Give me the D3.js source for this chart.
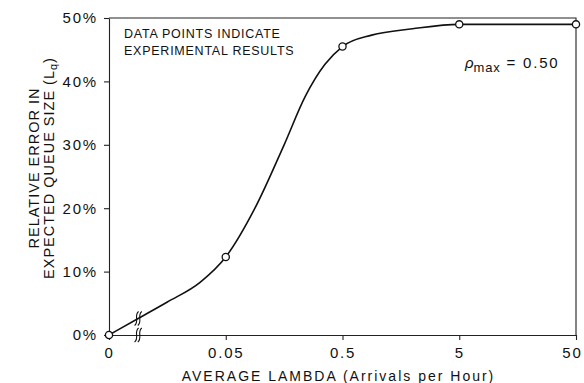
<!DOCTYPE html>
<html>
<head>
<meta charset="utf-8">
<script src="https://cdn.jsdelivr.net/npm/d3@7"></script>
<style>
  body { margin: 0; background: #fff; }
  svg { display: block; font-family: "Liberation Sans", Arial, sans-serif; }
  .axis path, .axis line { stroke: #222; stroke-width: 1.1; }
  .axis text { font-size: 15px; fill: #111; letter-spacing: 1.8px; }
</style>
</head>
<body>
<div id="chart"></div>
<script>
const svgWidth = 584
const svgHeight = 383

// x categories (equally spaced, log steps with a break after 0)
const lambdaLabels = ["0", "0.05", "0.5", "5", "50"]
// experimental data points, relative error in %
const errorPoints = [0, 12.3, 45.5, 49, 49]
// hand-drawn fitted curve (x in category steps, y in %)
const curveX = [0, 0.25, 0.5, 0.78, 1.0, 1.25, 1.5, 1.68, 1.85, 2.0, 2.25, 2.6, 3.0, 4.0]
const curveY = [0, 2.6, 5.2, 8.3, 12.3, 20.0, 30.0, 37.6, 42.7, 45.5, 47.3, 48.3, 49.0, 49.0]
const yTicks = [0, 10, 20, 30, 40, 50]

let margin = { top: 18, right: 8, bottom: 48, left: 109 }
let width = svgWidth - margin.left - margin.right
let height = svgHeight - margin.top - margin.bottom

let svg = d3.select("#chart")
  .append("svg")
  .attr("width", svgWidth)
  .attr("height", svgHeight)

let chartGroup = svg.append("g")
  .attr("transform", `translate(${margin.left}, ${margin.top})`)

let xScale = d3.scaleLinear().domain([0, lambdaLabels.length - 1]).range([0, width])
let yScale = d3.scaleLinear().domain([0, 50]).range([height, 0])

// axes
chartGroup.append("g")
  .attr("class", "axis")
  .call(d3.axisLeft(yScale).tickValues(yTicks).tickFormat(d => d + "%").tickSize(5).tickPadding(6).tickSizeOuter(0))

let xAxis = chartGroup.append("g")
  .attr("class", "axis")
  .attr("transform", `translate(0, ${height})`)
  .call(d3.axisBottom(xScale).tickValues(d3.range(lambdaLabels.length)).tickFormat(i => lambdaLabels[i]).tickSize(5).tickPadding(7).tickSizeOuter(0))

// last label sits against the page edge, pull it in a little
xAxis.selectAll(".tick text").filter(i => i === lambdaLabels.length - 1).attr("dx", -4)

// top and right frame
chartGroup.append("path")
  .attr("d", `M0,0H${width}V${height}`)
  .attr("fill", "none")
  .attr("stroke", "#222")
  .attr("stroke-width", 1.1)

// fitted curve
let line = d3.line()
  .x(d => xScale(d[0]))
  .y(d => yScale(d[1]))
  .curve(d3.curveMonotoneX)

chartGroup.append("path")
  .datum(curveX.map((x, i) => [x, curveY[i]]))
  .attr("d", line)
  .attr("fill", "none")
  .attr("stroke", "#111")
  .attr("stroke-width", 1.6)

// axis break marks (on the axis and on the curve)
function breakMark(cx, cy) {
  let g = chartGroup.append("g").attr("transform", `translate(${cx}, ${cy})`)
  ;[-1.6, 1.6].forEach(dx => {
    g.append("path")
      .attr("d", `M${dx - 2},7 C${dx + 3},3 ${dx - 3},-3 ${dx + 2},-7`)
      .attr("fill", "none")
      .attr("stroke", "#111")
      .attr("stroke-width", 1.1)
  })
}
breakMark(xScale(0.25), height)
breakMark(xScale(0.25), yScale(2.6))

// data points
chartGroup.selectAll("circle.pt")
  .data(errorPoints)
  .enter()
  .append("circle")
  .attr("class", "pt")
  .attr("cx", (d, i) => xScale(i))
  .attr("cy", d => yScale(d))
  .attr("r", 3.6)
  .attr("fill", "#fff")
  .attr("stroke", "#111")
  .attr("stroke-width", 1.3)

// annotation
let note = chartGroup.append("text")
  .attr("font-size", 12.5)
  .attr("letter-spacing", 0.75)
  .attr("fill", "#111")
note.append("tspan").attr("x", 15).attr("y", 20).text("DATA POINTS INDICATE")
note.append("tspan").attr("x", 15).attr("y", 37).text("EXPERIMENTAL RESULTS")

let rho = chartGroup.append("text")
  .attr("x", 356)
  .attr("y", 50)
  .attr("font-size", 15)
  .attr("fill", "#111")
rho.append("tspan").attr("font-style", "italic").text("ρ")
rho.append("tspan").attr("font-size", 13).attr("dy", 4).attr("letter-spacing", 0.8).text("max")
rho.append("tspan").attr("dy", -4).attr("dx", 6).attr("letter-spacing", 1.8).text("= 0.50")

// axis titles
svg.append("text")
  .attr("x", margin.left + width / 2 - 4)
  .attr("y", 381)
  .attr("text-anchor", "middle")
  .attr("font-size", 14)
  .attr("letter-spacing", 2)
  .attr("fill", "#111")
  .text("AVERAGE LAMBDA (Arrivals per Hour)")

let yTitle = svg.append("text")
  .attr("transform", "translate(0, 168) rotate(-90)")
  .attr("text-anchor", "middle")
  .attr("font-size", 14.5)
  .attr("letter-spacing", 1)
  .attr("fill", "#111")
yTitle.append("tspan").attr("x", 0).attr("y", 39).text("RELATIVE ERROR IN")
let l2 = yTitle.append("tspan").attr("x", 0).attr("y", 54)
l2.append("tspan").text("EXPECTED QUEUE SIZE (L")
l2.append("tspan").attr("font-size", 11).attr("dy", 3).text("q")
l2.append("tspan").attr("dy", -3).text(")")
</script>
</body>
</html>
